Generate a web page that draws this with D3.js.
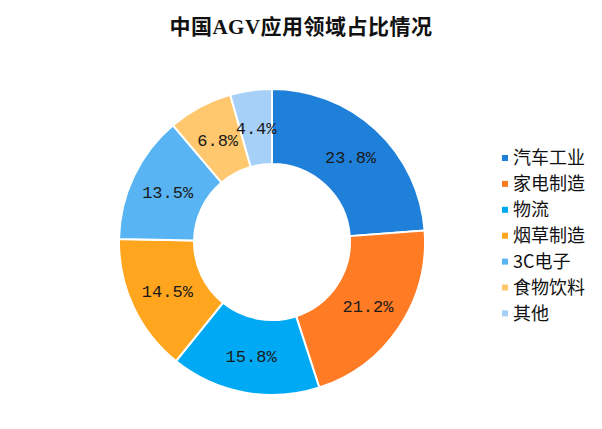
<!DOCTYPE html>
<html>
<head>
<meta charset="utf-8">
<script src="https://cdn.jsdelivr.net/npm/d3@7"></script>
<style>
  body { margin: 0; background: #fff; }
</style>
</head>
<body>
<svg id="viz" width="602" height="429"></svg>
<script>
// data
var categories = ["汽车工业", "家电制造", "物流", "烟草制造", "3C电子", "食物饮料", "其他"];
var shares = [23.8, 21.2, 15.8, 14.5, 13.5, 6.8, 4.4];
var colors = ["#1f80d9", "#ff7b24", "#00a9f4", "#ffa51e", "#58b4f2", "#ffc76e", "#a6d0f8"];
var title = "中国AGV应用领域占比情况";

var svg = d3.select("#viz");
var cx = 272, cy = 242, outerR = 153, innerR = 78;

svg.append("text")
  .attr("x", 301)
  .attr("y", 34)
  .attr("text-anchor", "middle")
  .style("font-family", "'Liberation Serif', 'Noto Sans CJK SC', serif")
  .style("font-weight", "bold")
  .style("font-size", "21px")
  .style("letter-spacing", "0.5px")
  .style("fill", "#111")
  .text(title);

var pie = d3.pie().sort(null).value(function(d){ return d; });
var arc = d3.arc().innerRadius(innerR).outerRadius(outerR);
var arcs = pie(shares);

var g = svg.append("g").attr("transform", "translate(" + cx + "," + cy + ")");

g.selectAll("path.slice")
  .data(arcs)
  .enter().append("path")
  .attr("class", "slice")
  .attr("d", arc)
  .style("fill", function(d, i){ return colors[i]; })
  .style("stroke", "#fff")
  .style("stroke-width", "2px");

g.selectAll("text.lbl")
  .data(arcs)
  .enter().append("text")
  .attr("class", "lbl")
  .attr("transform", function(d){ return "translate(" + arc.centroid(d) + ")"; })
  .attr("text-anchor", "middle")
  .attr("dy", "0.35em")
  .style("font-family", "'Liberation Mono', monospace")
  .style("font-size", "17px")
  .style("fill", "#1a1a1a")
  .text(function(d){ return d.data.toFixed(1) + "%"; });

// legend
var legend = svg.append("g").attr("transform", "translate(502,158)");
var rowH = 25.9;
var item = legend.selectAll("g.item")
  .data(categories)
  .enter().append("g")
  .attr("class", "item")
  .attr("transform", function(d, i){ return "translate(0," + (i * rowH) + ")"; });

item.append("rect")
  .attr("x", 0).attr("y", -3)
  .attr("width", 6).attr("height", 6)
  .style("fill", function(d, i){ return colors[i]; });

item.append("text")
  .attr("x", 11)
  .attr("dy", "0.36em")
  .style("font-family", "'Noto Sans CJK SC', sans-serif")
  .style("font-size", "18px")
  .style("fill", "#111")
  .text(function(d){ return d; });
</script>
</body>
</html>
